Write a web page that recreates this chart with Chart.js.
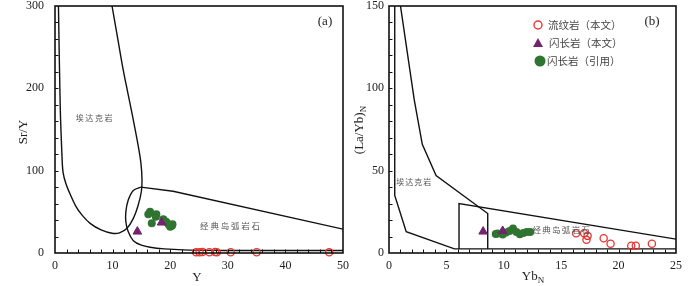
<!DOCTYPE html>
<html>
<head>
<meta charset="utf-8">
<script src="https://cdn.jsdelivr.net/npm/chart.js@4"></script>
<style>
html,body{margin:0;padding:0;background:#fff;}
#wrap{position:relative;width:700px;height:286px;overflow:hidden;background:#fff;}
.pane{position:absolute;top:0;width:350px;height:286px;}
</style>
</head>
<body>
<div id="wrap">
  <div class="pane" style="left:0"><canvas id="ca" width="350" height="286"></canvas></div>
  <div class="pane" style="left:350px"><canvas id="cb" width="350" height="286"></canvas></div>
</div>
<script>
// ---------- Panel (a): Sr/Y vs Y ----------
const rhyA_Y   = [24.5, 25.1, 25.6, 26.8, 27.8, 28.1, 30.5, 35.0, 47.6];
const rhyA_SrY = [1.0, 0.9, 1.1, 1.0, 1.2, 0.9, 1.0, 0.9, 0.8];
const dioA_Y   = [14.3, 18.5];
const dioA_SrY = [26, 37];
const dioRefA_Y   = [16.5, 16.2, 17.6, 17.5, 16.8, 18.8, 19.3, 19.7, 20.3, 20.4, 20.0];
const dioRefA_SrY = [50, 47, 47, 44, 36, 41, 38, 35, 33, 35, 32];

// field boundaries (a)
const adakA_Y   = [0.6, 0.9, 1.2, 1.4, 1.9, 2.6, 3.6, 4.7, 6.1, 8.0, 9.9, 11.2, 12.5, 13.6, 14.4, 15.0, 15.1, 14.9, 14.4, 13.5, 12.6, 11.8, 10.9, 9.9];
const adakA_SrY = [300, 180, 120, 98, 84, 72, 57, 46, 36, 28, 24, 24.5, 30, 42, 57, 75, 90, 110, 132, 165, 196, 224, 260, 300];
const arcTopA_Y   = [14.9, 20.5, 50];
const arcTopA_SrY = [80, 75, 29];
const arcLeftA_Y   = [14.9, 13.6, 12.7, 12.3, 12.3, 12.7, 13.6, 15.0, 16.5, 19.0, 22.3, 30.0];
const arcLeftA_SrY = [80, 76, 64, 50, 38, 26, 15, 9.5, 7, 5, 3.8, 3];
const arcBotA_Y   = [30.0, 50];
const arcBotA_SrY = [3, 3];

// ---------- Panel (b): (La/Yb)N vs YbN ----------
const rhyB_Yb   = [16.3, 17.0, 17.3, 17.2, 18.7, 19.3, 21.1, 21.5, 22.9];
const rhyB_LaYb = [12, 12, 10.4, 8, 9, 5.6, 4.4, 4.4, 5.6];
const dioB_Yb   = [8.2, 9.9];
const dioB_LaYb = [13, 13.4];
const dioRefB_Yb   = [9.3, 9.45, 9.9, 10.2, 10.5, 10.8, 11.1, 11.4, 11.7, 12.0, 12.3];
const dioRefB_LaYb = [11.5, 11.9, 11.3, 12.5, 13.4, 14.9, 12.8, 11.4, 12.2, 12.8, 12.8];

// field boundaries (b)
const adakOutB_Yb   = [0.5, 0.5, 1.5, 5.7, 25];
const adakOutB_LaYb = [150, 35, 13, 2.5, 2.5];
const adakInB_Yb    = [1.0, 2.2, 2.9, 4.1, 8.6, 8.6];
const adakInB_LaYb  = [150, 93, 66, 47, 24, 2.5];
const arcB_Yb   = [6.1, 6.1, 25];
const arcB_LaYb = [2.5, 30, 8.4];

// labels
const legendLabels = ['流纹岩（本文）', '闪长岩（本文）', '闪长岩（引用）'];
const fieldAdakite = '埃达克岩';
const fieldArc = '经典岛弧岩石';

const RED = '#e8352f', PURPLE = '#74236f', GREEN = '#2f7430', INK = '#111';
const SERIF = "'Liberation Serif','DejaVu Serif',serif";
const CJK = "'Noto Sans CJK SC','Noto Sans CJK JP',sans-serif";

const pts = (xs, ys) => xs.map((x, i) => ({x, y: ys[i]}));

function markerSets(rX, rY, tX, tY, gX, gY) {
  return [
    {label: legendLabels[0], data: pts(rX, rY), pointStyle: 'circle', pointRadius: 3.6, borderWidth: 1.3,
     borderColor: RED, backgroundColor: 'rgba(0,0,0,0)', showLine: false, clip: false, order: 1},
    {label: legendLabels[1], data: pts(tX, tY), pointStyle: 'triangle', pointRadius: 5, borderWidth: 1,
     borderColor: PURPLE, backgroundColor: PURPLE, showLine: false, clip: false, order: 0},
    {label: legendLabels[2], data: pts(gX, gY), pointStyle: 'circle', pointRadius: 4, borderWidth: 0,
     borderColor: GREEN, backgroundColor: GREEN, showLine: false, clip: false, order: 2},
  ];
}
function lineSet(xs, ys, tension) {
  return {label: '', data: pts(xs, ys), showLine: true, pointRadius: 0, borderColor: INK, borderWidth: 1.4,
          backgroundColor: 'rgba(0,0,0,0)', tension: tension || 0, fill: false, order: 5};
}

function drawSpaced(ctx, text, cx, cy, font, gap, color) {
  ctx.font = font; ctx.fillStyle = color; ctx.textBaseline = 'middle'; ctx.textAlign = 'left';
  const chars = [...text];
  const ws = chars.map(c => ctx.measureText(c).width);
  const total = ws.reduce((a, b) => a + b, 0) + gap * (chars.length - 1);
  let x = cx - total / 2;
  chars.forEach((c, i) => { ctx.fillText(c, x, cy); x += ws[i] + gap; });
  return total;
}

function framePlugin(minorX, minorY) {
  return {
    id: 'frame',
    afterDatasetsDraw(chart) {
      const {ctx, chartArea: a, scales: {x, y}} = chart;
      ctx.save();
      ctx.strokeStyle = INK; ctx.lineWidth = 1;
      ctx.beginPath();
      for (let v = x.min + minorX; v < x.max - 1e-9; v += minorX) {
        const px = Math.round(x.getPixelForValue(v)) + 0.5;
        ctx.moveTo(px, a.bottom); ctx.lineTo(px, a.bottom - 3.5);
      }
      for (let v = y.min + minorY; v < y.max - 1e-9; v += minorY) {
        const py = Math.round(y.getPixelForValue(v)) + 0.5;
        ctx.moveTo(a.left, py); ctx.lineTo(a.left + 3.5, py);
      }
      ctx.stroke();
      ctx.lineWidth = 1.6;
      ctx.strokeRect(a.left, a.top, a.right - a.left, a.bottom - a.top);
      ctx.restore();
    }
  };
}

function makeScales(xmin, xmax, xstep, ymin, ymax, ystep, yWidth, yPad) {
  const tickFont = {family: SERIF, size: 12};
  return {
    x: {type: 'linear', min: xmin, max: xmax,
        afterFit(s) { s.height = 33; s.paddingLeft = 0; s.paddingRight = 0; },
        ticks: {stepSize: xstep, padding: 6, font: tickFont, color: '#222', maxRotation: 0, autoSkip: false},
        grid: {display: false, drawTicks: false}, border: {display: false}},
    y: {type: 'linear', min: ymin, max: ymax,
        afterFit(s) { s.width = yWidth; s.paddingTop = 0; s.paddingBottom = 0; },
        ticks: {stepSize: ystep, padding: yPad, font: tickFont, color: '#222', autoSkip: false},
        grid: {display: false, drawTicks: false}, border: {display: false}}
  };
}

const baseOpts = {responsive: false, animation: false, events: [],
  plugins: {legend: {display: false}, tooltip: {enabled: false}}};

// ---------- Chart (a) ----------
new Chart(document.getElementById('ca'), {
  type: 'scatter',
  data: {datasets: [
    ...markerSets(rhyA_Y, rhyA_SrY, dioA_Y, dioA_SrY, dioRefA_Y, dioRefA_SrY),
    lineSet(adakA_Y, adakA_SrY, 0.35),
    lineSet(arcTopA_Y, arcTopA_SrY, 0),
    lineSet(arcLeftA_Y, arcLeftA_SrY, 0.35),
    lineSet(arcBotA_Y, arcBotA_SrY, 0),
  ]},
  options: {...baseOpts,
    layout: {padding: {top: 4, right: 7, left: 0, bottom: 0}},
    scales: makeScales(0, 50, 10, 0, 300, 100, 55, 11)},
  plugins: [framePlugin(2, 20), {
    id: 'textsA',
    afterDraw(chart) {
      const {ctx, scales: {x, y}} = chart;
      ctx.save();
      drawSpaced(ctx, fieldAdakite, x.getPixelForValue(6.8), y.getPixelForValue(164), '8px ' + CJK, 1.6, '#555');
      drawSpaced(ctx, fieldArc, x.getPixelForValue(30.4), y.getPixelForValue(33), '8.5px ' + CJK, 1.8, '#555');
      ctx.font = '13px ' + SERIF; ctx.fillStyle = '#222'; ctx.textAlign = 'center'; ctx.textBaseline = 'middle';
      ctx.fillText('(a)', 325, 22);
      ctx.fillText('Y', 197, 278);
      ctx.translate(24, 132); ctx.rotate(-Math.PI / 2);
      ctx.fillText('Sr/Y', 0, 0);
      ctx.restore();
    }
  }]
});

// ---------- Chart (b) ----------
new Chart(document.getElementById('cb'), {
  type: 'scatter',
  data: {datasets: [
    ...markerSets(rhyB_Yb, rhyB_LaYb, dioB_Yb, dioB_LaYb, dioRefB_Yb, dioRefB_LaYb),
    lineSet(adakOutB_Yb, adakOutB_LaYb, 0),
    lineSet(adakInB_Yb, adakInB_LaYb, 0),
    lineSet(arcB_Yb, arcB_LaYb, 0),
  ]},
  options: {...baseOpts,
    layout: {padding: {top: 4, right: 24, left: 0, bottom: 0}},
    scales: makeScales(0, 25, 5, 0, 150, 50, 39, 5)},
  plugins: [framePlugin(1, 10), {
    id: 'textsB',
    afterDraw(chart) {
      const {ctx, scales: {x, y}} = chart;
      const ds = chart.data.datasets;
      ctx.save();
      drawSpaced(ctx, fieldAdakite, x.getPixelForValue(2.15), y.getPixelForValue(43), '8px ' + CJK, 1, '#555');
      drawSpaced(ctx, fieldArc, x.getPixelForValue(15.0), y.getPixelForValue(14), '8.5px ' + CJK, 1.3, '#555');
      // legend
      const lx = 188, ly = [25, 43, 61];
      ctx.strokeStyle = ds[0].borderColor; ctx.lineWidth = 1.4;
      ctx.beginPath(); ctx.arc(lx, ly[0], 4, 0, Math.PI * 2); ctx.stroke();
      ctx.fillStyle = ds[1].backgroundColor;
      ctx.beginPath(); ctx.moveTo(lx, ly[1] - 5); ctx.lineTo(lx + 5, ly[1] + 4); ctx.lineTo(lx - 5, ly[1] + 4); ctx.closePath(); ctx.fill();
      ctx.fillStyle = ds[2].backgroundColor;
      ctx.beginPath(); ctx.arc(lx + 2, ly[2], 5.5, 0, Math.PI * 2); ctx.fill();
      ctx.font = '10.5px ' + CJK; ctx.fillStyle = '#444'; ctx.textAlign = 'left'; ctx.textBaseline = 'middle';
      [0, 1, 2].forEach(i => {
        const txt = ds[i].label; let xx = [198, 199, 197][i];
        for (const c of txt) { ctx.fillText(c, xx, ly[i]); xx += ctx.measureText(c).width; }
      });
      ctx.font = '13px ' + SERIF; ctx.fillStyle = '#222'; ctx.textAlign = 'center';
      ctx.fillText('(b)', 302, 22);
      // x title YbN
      ctx.font = '13px ' + SERIF; ctx.textAlign = 'left';
      const w1 = ctx.measureText('Yb').width;
      ctx.font = '9px ' + SERIF; const w2 = ctx.measureText('N').width;
      let sx = 183 - (w1 + w2) / 2;
      ctx.font = '13px ' + SERIF; ctx.fillText('Yb', sx, 277);
      ctx.font = '9px ' + SERIF; ctx.fillText('N', sx + w1, 281);
      // y title (La/Yb)N
      ctx.translate(10, 130); ctx.rotate(-Math.PI / 2);
      ctx.font = '13px ' + SERIF;
      const v1 = ctx.measureText('(La/Yb)').width;
      ctx.font = '9px ' + SERIF; const v2 = ctx.measureText('N').width;
      const s0 = -(v1 + v2) / 2;
      ctx.font = '13px ' + SERIF; ctx.fillText('(La/Yb)', s0, 0);
      ctx.font = '9px ' + SERIF; ctx.fillText('N', s0 + v1, 4);
      ctx.restore();
    }
  }]
});
</script>
</body>
</html>
